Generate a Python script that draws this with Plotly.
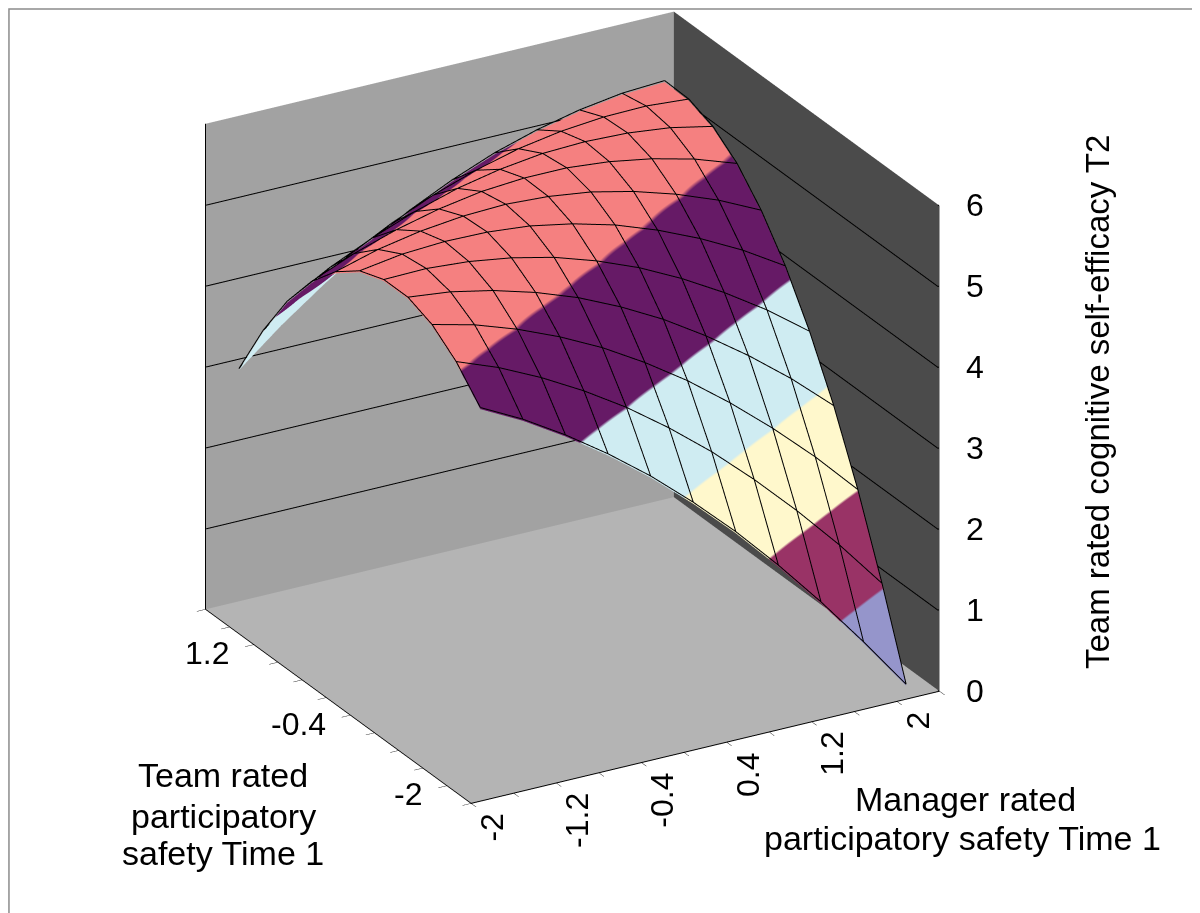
import plotly.graph_objects as go

# Category values (Excel surface chart categories)
manager_vals = [-2.0, -1.6, -1.2, -0.8, -0.4, 0.0, 0.4, 0.8, 1.2, 1.6, 2.0]
team_vals = [-2.0, -1.6, -1.2, -0.8, -0.4, 0.0, 0.4, 0.8, 1.2, 1.6, 2.0]

# Team rated cognitive self-efficacy T2 (rows: team value, columns: manager value)
efficacy = [
    [4.70, 4.43, 4.11, 3.75, 3.35, 2.90, 2.41, 1.87, 1.29, 0.67, 0.02],
    [5.05, 4.85, 4.60, 4.31, 3.98, 3.60, 3.18, 2.71, 2.20, 1.65, 1.05],
    [5.29, 5.16, 4.98, 4.76, 4.50, 4.19, 3.84, 3.44, 3.00, 2.52, 1.99],
    [5.41, 5.35, 5.24, 5.09, 4.90, 4.66, 4.38, 4.05, 3.68, 3.27, 2.81],
    [5.41, 5.42, 5.38, 5.30, 5.18, 5.01, 4.80, 4.54, 4.24, 3.90, 3.51],
    [5.30, 5.38, 5.41, 5.40, 5.35, 5.25, 5.11, 4.92, 4.69, 4.42, 4.10],
    [5.07, 5.22, 5.32, 5.38, 5.40, 5.37, 5.30, 5.18, 5.02, 4.82, 4.57],
    [4.73, 4.95, 5.12, 5.25, 5.34, 5.38, 5.38, 5.33, 5.24, 5.11, 4.93],
    [4.27, 4.56, 4.80, 5.00, 5.16, 5.27, 5.34, 5.36, 5.34, 5.28, 5.17],
    [3.69, 4.05, 4.36, 4.63, 4.86, 5.04, 5.18, 5.27, 5.32, 5.33, 5.29],
    [3.00, 3.43, 3.81, 4.15, 4.45, 4.70, 4.91, 5.07, 5.19, 5.27, 5.30],
]

# Category boundaries (where Excel puts the tick marks)
boundaries = [-2.2, -1.8, -1.4, -1.0, -0.6, -0.2, 0.2, 0.6, 1.0, 1.4, 1.8, 2.2]

manager_ticks = [-2.0, -1.2, -0.4, 0.4, 1.2, 2.0]
manager_ticktext = ["-2", "-1.2", "-0.4", "0.4", "1.2", "2"]
team_ticks = [-2.0, -0.4, 1.2]
team_ticktext = ["-2", "-0.4", "1.2"]
z_ticks = [0, 1, 2, 3, 4, 5, 6]
z_gridlines = [1, 2, 3, 4, 5]

band_colors = ["#9595CB", "#993366", "#FFF8CC", "#CFECF2", "#661A66", "#F58080"]

colorscale = []
for i, c in enumerate(band_colors):
    colorscale.append([i / 6, c])
    colorscale.append([(i + 1) / 6, c])

FONT = "Liberation Sans, Arial, sans-serif"
M_LO, M_HI = -2.2, 2.2
T_LO, T_HI = -2.2, 2.2
EPS = 0.01
LIFT = 0.02

fig = go.Figure()
fig.add_trace(go.Surface(
    x=manager_vals, y=team_vals, z=efficacy,
    colorscale=colorscale, cmin=0, cmax=6, showscale=False,
    lighting=dict(ambient=1.0, diffuse=0.0, specular=0.0, roughness=1.0, fresnel=0.0),
    contours=dict(
        x=dict(show=False, highlight=False),
        y=dict(show=False, highlight=False),
        z=dict(show=False, highlight=False),
    ),
    hoverinfo="skip",
))

# wireframe of the surface, drawn along every data row and column
gx, gy, gz = [], [], []
for i, m in enumerate(manager_vals):
    for j, t in enumerate(team_vals):
        gx.append(m); gy.append(t); gz.append(efficacy[j][i] + LIFT)
    gx.append(None); gy.append(None); gz.append(None)
for j, t in enumerate(team_vals):
    for i, m in enumerate(manager_vals):
        gx.append(m); gy.append(t); gz.append(efficacy[j][i] + LIFT)
    gx.append(None); gy.append(None); gz.append(None)
fig.add_trace(go.Scatter3d(x=gx, y=gy, z=gz, mode="lines",
                           line=dict(color="black", width=2), hoverinfo="skip", showlegend=False))

# horizontal gridlines on the back and side walls
wx, wy, wz = [], [], []
for v in z_gridlines:
    wx += [M_LO, M_HI - EPS, M_HI - EPS, None]
    wy += [T_HI - EPS, T_HI - EPS, T_LO, None]
    wz += [v, v, v, None]
fig.add_trace(go.Scatter3d(x=wx, y=wy, z=wz, mode="lines",
                           line=dict(color="black", width=2), hoverinfo="skip", showlegend=False))

# z-axis tick marks on the front-right vertical edge
tx, ty, tz = [], [], []
for v in z_ticks:
    tx += [M_HI - EPS, M_HI + 0.15, None]
    ty += [T_LO + EPS, T_LO + EPS, None]
    tz += [v, v, None]
fig.add_trace(go.Scatter3d(x=tx, y=ty, z=tz, mode="lines",
                           line=dict(color="black", width=2), hoverinfo="skip", showlegend=False))

axis_common = dict(
    showgrid=False, zeroline=False, showspikes=False, showbackground=True,
    ticks="outside", ticklen=10, tickcolor="black", tickwidth=1,
    showline=True, linecolor="black", linewidth=2,
    showticklabels=False,
    title=dict(text=""),
)

tick_font = dict(family=FONT, size=32, color="black")
scene_ann = []
for v, t in zip(z_ticks, [str(v) for v in z_ticks]):
    scene_ann.append(dict(x=M_HI - EPS, y=T_LO + EPS, z=v, text=t, showarrow=False,
                          xanchor="left", yanchor="middle", xshift=26, font=tick_font))
for v, t in zip(manager_ticks, manager_ticktext):
    scene_ann.append(dict(x=v, y=T_LO + EPS, z=0, text=t, showarrow=False, textangle=-90,
                          xanchor="center", yanchor="top", yshift=-14, font=tick_font))
for v, t in zip(team_ticks, team_ticktext):
    scene_ann.append(dict(x=M_LO + EPS, y=v, z=0, text=t, showarrow=False,
                          xanchor="right", yanchor="middle", xshift=-36, font=tick_font))

title_font = dict(family=FONT, size=34, color="black")
titles = [
    ("Team rated", 215, 767),
    ("participatory", 215, 808),
    ("safety Time 1", 215, 845),
    ("Manager rated", 957, 791),
    ("participatory safety Time 1", 954, 830),
]
paper_ann = [
    dict(text=txt, x=px / 1200, y=1 - py / 913, xref="paper", yref="paper", showarrow=False,
         xanchor="center", yanchor="middle", font=title_font)
    for txt, px, py in titles
]
paper_ann.append(dict(text="Team rated cognitive self-efficacy T2", x=1089 / 1200, y=1 - 394 / 913,
                      xref="paper", yref="paper", showarrow=False, textangle=-90,
                      xanchor="center", yanchor="middle",
                      font=dict(family=FONT, size=33, color="black")))

fig.update_layout(
    width=1200, height=913,
    margin=dict(l=0, r=0, t=0, b=0),
    paper_bgcolor="white",
    font=dict(family=FONT, color="black"),
    scene=dict(
        domain=dict(x=[0.0, 0.941], y=[0.125, 1.0]),
        xaxis=dict(axis_common, range=[M_LO, M_HI], tickvals=boundaries,
                   backgroundcolor="#4B4B4B"),
        yaxis=dict(axis_common, range=[T_LO, T_HI], tickvals=boundaries,
                   backgroundcolor="#A2A2A2"),
        zaxis=dict(axis_common, range=[0, 6], tickvals=z_ticks,
                   backgroundcolor="#B4B4B4", ticks=""),
        aspectmode="manual",
        aspectratio=dict(x=1.351, y=1.338, z=1.338),
        camera=dict(
            eye=dict(x=-0.903, y=-1.577, z=0.837),
            center=dict(x=0, y=0, z=0),
            up=dict(x=0, y=0, z=1),
            projection=dict(type="orthographic"),
        ),
        annotations=scene_ann,
    ),
    annotations=paper_ann,
    shapes=[
        dict(type="rect", xref="paper", yref="paper", x0=0.0008, y0=0.0012, x1=0.9985, y1=0.9988,
             line=dict(color="#8C8C8C", width=1.5)),
    ],
)

fig.write_html("out.html")
